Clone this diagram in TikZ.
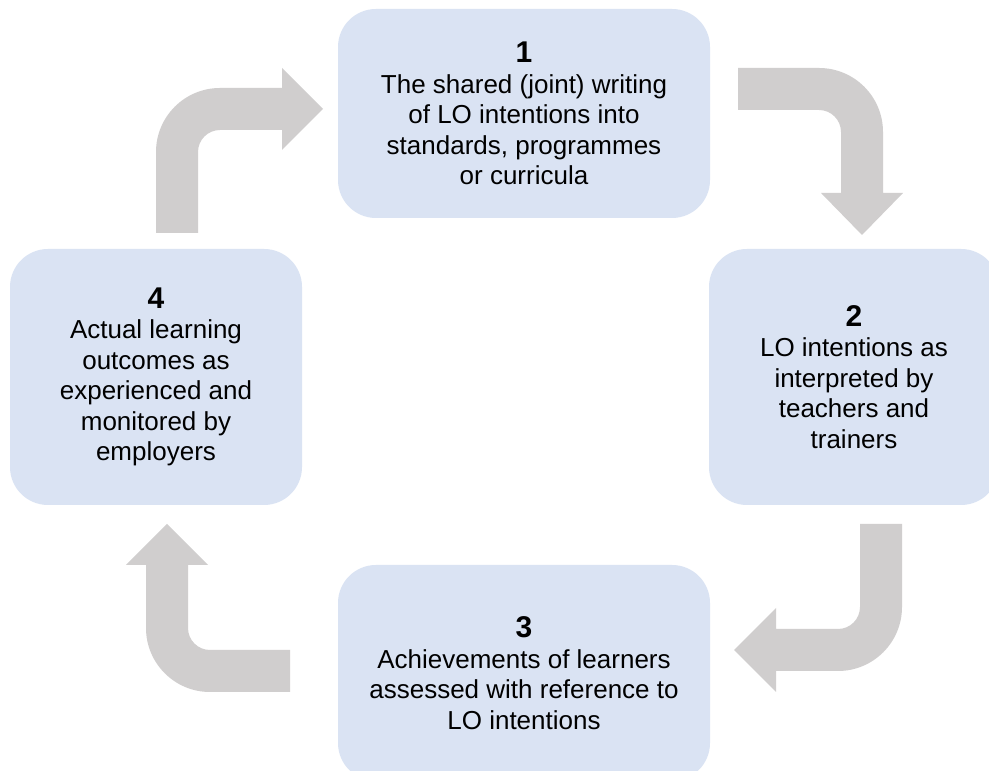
\documentclass[tikz,border=0pt]{standalone}
\usepackage{fontspec}
\setmainfont{Liberation Sans}
\definecolor{boxblue}{RGB}{218,227,243}
\definecolor{arrowgray}{RGB}{208,206,206}
\tikzset{
  stagebox/.style={rectangle, rounded corners=38pt, fill=boxblue, draw=none,
    inner sep=0pt, align=center, text=black,
    font=\fontsize{26}{30.5}\selectfont},
  bentarrow/.style={fill=arrowgray, draw=none}
}
\newcommand{\stagenum}[1]{{\fontsize{30}{30.5}\selectfont\bfseries #1}}
\begin{document}
\begin{tikzpicture}[x=1pt,y=1pt]
\useasboundingbox (0,0) rectangle (989,771);
\clip (0,0) rectangle (989,771);
\fill[white] (0,0) rectangle (989,771);

% boxes
\node[stagebox, minimum width=372pt, minimum height=209pt] (s1) at (524,657.5)
  {\stagenum{1}\\The shared (joint) writing\\of LO intentions into\\standards, programmes\\or curricula};
\node[stagebox, minimum width=290pt, minimum height=256pt] (s2) at (854,394)
  {\stagenum{2}\\LO intentions as\\interpreted by\\teachers and\\trainers};
\node[stagebox, minimum width=372pt, minimum height=216pt] (s3) at (524,98)
  {\stagenum{3}\\Achievements of learners\\assessed with reference to\\LO intentions};
\node[stagebox, minimum width=292pt, minimum height=256pt] (s4) at (156,394)
  {\stagenum{4}\\Actual learning\\outcomes as\\experienced and\\monitored by\\employers};

% bent arrows
% 1 -> 2 (top right)
\fill[bentarrow] (738,703) -- (819,703) arc(90:0:64) -- (883,578) -- (903,578)
  -- (862,536) -- (821,578) -- (841,578) -- (841,639) arc(0:90:22)
  -- (738,661) -- cycle;
% 2 -> 3 (bottom right)
\fill[bentarrow] (860,247) -- (902,247) -- (902,164) arc(0:-90:64) -- (776,100)
  -- (776,79) -- (734,121) -- (776,163) -- (776,142) -- (838,142) arc(-90:0:22)
  -- cycle;
% 3 -> 4 (bottom left)
\fill[bentarrow] (290,79) -- (210,79) arc(-90:-180:64) -- (146,206) -- (126,206)
  -- (167,247) -- (208,206) -- (188,206) -- (188,143) arc(180:270:22)
  -- (290,121) -- cycle;
% 4 -> 1 (top left)
\fill[bentarrow] (156,538) -- (156,619) arc(180:90:64) -- (282,683) -- (282,703)
  -- (323,662) -- (282,621) -- (282,641) -- (220,641) arc(90:180:22)
  -- (198,538) -- cycle;
\end{tikzpicture}
\end{document}
